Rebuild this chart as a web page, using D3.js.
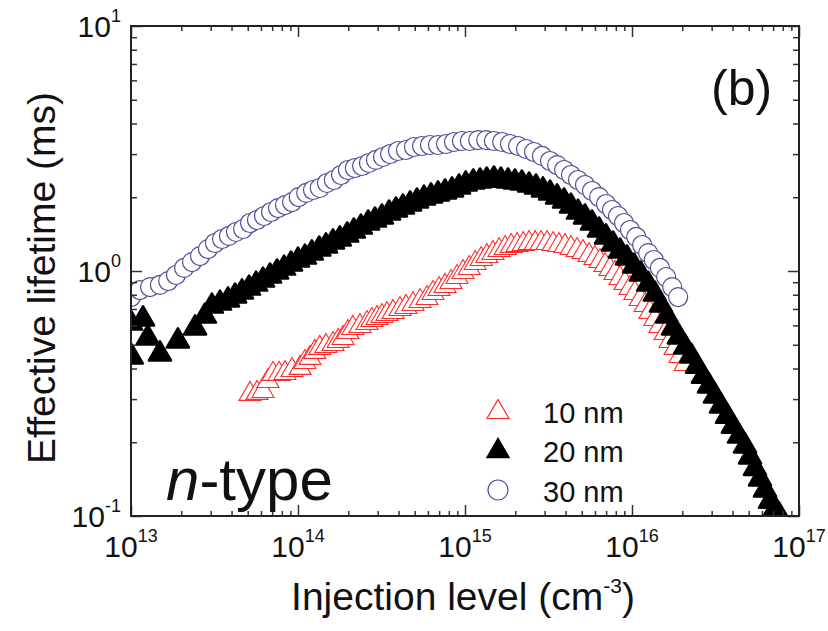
<!DOCTYPE html>
<html><head><meta charset="utf-8">
<script src="https://cdn.jsdelivr.net/npm/d3@7"></script>
<style>
body{margin:0;background:#fff}
svg{display:block}
text{font-family:"Liberation Sans",Arial,Helvetica,sans-serif;fill:#111}
</style>
</head><body>
<svg id="chart" width="828" height="631"></svg>
<script>
// ---------- data ----------
const xTickValues = [1e13, 1e14, 1e15, 1e16, 1e17];
const xTickExps = ["13", "14", "15", "16", "17"];
const yTickValues = [0.1, 1, 10];
const yTickExps = ["-1", "0", "1"];
const seriesNames = ["10 nm", "20 nm", "30 nm"];

// 10 nm (red open triangles)
const n10X = [5.16e13,5.68e13,6.17e13,6.61e13,7.09e13,7.70e13,8.36e13,9.21e13,1.03e14,1.10e14,1.18e14,1.26e14,1.35e14,1.47e14,1.62e14,1.74e14,1.86e14,1.99e14,2.13e14,2.35e14,2.59e14,2.77e14,2.97e14,3.18e14,3.41e14,3.71e14,4.08e14,4.43e14,4.88e14,5.38e14,5.92e14,6.43e14,6.99e14,7.59e14,8.25e14,8.96e14,9.73e14,1.06e15,1.15e15,1.25e15,1.35e15,1.47e15,1.60e15,1.74e15,1.89e15,2.05e15,2.23e15,2.42e15,2.63e15,2.85e15,3.10e15,3.37e15,3.65e15,3.97e15,4.31e15,4.69e15,5.09e15,5.53e15,6.00e15,6.43e15,6.89e15,7.38e15,7.91e15,8.48e15,9.08e15,9.73e15,1.04e16,1.12e16,1.20e16,1.28e16,1.37e16,1.47e16,1.58e16,1.69e16,1.81e16,1.94e16,2.08e16];
const n10Y = [0.318,0.321,0.327,0.359,0.384,0.384,0.387,0.398,0.406,0.429,0.446,0.472,0.490,0.499,0.508,0.523,0.538,0.569,0.591,0.602,0.619,0.637,0.649,0.661,0.674,0.687,0.706,0.720,0.740,0.761,0.783,0.821,0.852,0.877,0.910,0.954,1.000,1.038,1.088,1.130,1.162,1.196,1.229,1.253,1.277,1.289,1.301,1.313,1.313,1.313,1.313,1.301,1.289,1.277,1.253,1.229,1.207,1.173,1.141,1.109,1.068,1.029,0.991,0.945,0.902,0.860,0.821,0.776,0.733,0.687,0.643,0.602,0.564,0.523,0.490,0.454,0.421];

// 20 nm (black filled triangles)
const n20X = [1.00e13,1.01e13,1.18e13,1.26e13,1.49e13,1.91e13,2.42e13,2.77e13,3.05e13,3.41e13,3.81e13,4.20e13,4.62e13,5.09e13,5.61e13,6.17e13,6.80e13,7.49e13,8.25e13,9.08e13,1.00e14,1.10e14,1.21e14,1.34e14,1.47e14,1.62e14,1.78e14,1.97e14,2.16e14,2.38e14,2.63e14,2.89e14,3.18e14,3.51e14,3.86e14,4.25e14,4.69e14,5.16e14,5.68e14,6.26e14,6.89e14,7.59e14,8.36e14,9.21e14,1.01e15,1.12e15,1.23e15,1.35e15,1.49e15,1.64e15,1.81e15,1.99e15,2.19e15,2.42e15,2.66e15,2.93e15,3.23e15,3.56e15,3.92e15,4.31e15,4.75e15,5.23e15,5.76e15,6.35e15,6.99e15,7.70e15,8.48e15,9.34e15,1.03e16,1.13e16,1.25e16,1.37e16,1.49e16,1.62e16,1.76e16,1.91e16,2.08e16,2.26e16,2.45e16,2.66e16,2.89e16,3.14e16,3.41e16,3.71e16,4.02e16,4.37e16,4.75e16,5.09e16,5.45e16,5.84e16,6.26e16,6.71e16,7.18e16,7.59e16];
const n20Y = [0.619,0.450,0.643,0.538,0.463,0.523,0.591,0.661,0.726,0.747,0.769,0.798,0.829,0.860,0.893,0.927,0.963,1.000,1.038,1.078,1.119,1.151,1.196,1.241,1.277,1.326,1.364,1.416,1.470,1.526,1.585,1.630,1.677,1.741,1.791,1.842,1.895,1.949,2.004,2.043,2.082,2.121,2.162,2.223,2.287,2.330,2.352,2.374,2.396,2.374,2.352,2.330,2.308,2.265,2.223,2.162,2.101,2.024,1.949,1.859,1.757,1.677,1.585,1.484,1.390,1.301,1.218,1.141,1.058,0.981,0.893,0.813,0.733,0.661,0.591,0.543,0.494,0.454,0.413,0.376,0.343,0.312,0.284,0.258,0.235,0.214,0.195,0.176,0.158,0.143,0.129,0.116,0.108,0.102];

// 30 nm (blue open circles)
const n30X = [1.00e13,1.13e13,1.30e13,1.49e13,1.67e13,1.86e13,2.08e13,2.32e13,2.59e13,2.89e13,3.18e13,3.51e13,3.86e13,4.25e13,4.69e13,5.16e13,5.68e13,6.26e13,6.89e13,7.59e13,8.36e13,9.21e13,1.01e14,1.12e14,1.23e14,1.35e14,1.49e14,1.64e14,1.81e14,1.99e14,2.19e14,2.42e14,2.66e14,2.93e14,3.23e14,3.56e14,3.97e14,4.43e14,4.95e14,5.53e14,6.17e14,6.89e14,7.70e14,8.59e14,9.59e14,1.07e15,1.20e15,1.34e15,1.49e15,1.67e15,1.86e15,2.08e15,2.32e15,2.59e15,2.89e15,3.23e15,3.56e15,3.92e15,4.31e15,4.75e15,5.23e15,5.76e15,6.35e15,6.99e15,7.59e15,8.25e15,8.96e15,9.73e15,1.06e16,1.15e16,1.25e16,1.35e16,1.47e16,1.60e16,1.74e16,1.89e16];
const n30Y = [0.783,0.836,0.860,0.877,0.910,0.963,1.029,1.088,1.151,1.229,1.301,1.351,1.390,1.443,1.484,1.570,1.615,1.677,1.741,1.807,1.859,1.912,2.004,2.082,2.141,2.182,2.287,2.352,2.465,2.584,2.633,2.683,2.760,2.839,2.920,3.003,3.089,3.118,3.207,3.237,3.268,3.268,3.299,3.361,3.393,3.393,3.424,3.424,3.393,3.361,3.299,3.237,3.148,3.060,2.948,2.812,2.707,2.584,2.465,2.352,2.244,2.121,2.004,1.877,1.774,1.677,1.570,1.470,1.377,1.277,1.184,1.109,1.029,0.945,0.860,0.783];

// ---------- chart ----------
const svg = d3.select("#chart");
const plot = {left: 131, right: 799, top: 26, bottom: 516};
const x = d3.scaleLog().domain([1e13, 1e17]).range([plot.left, plot.right]);
const y = d3.scaleLog().domain([0.1, 10]).range([plot.bottom, plot.top]);

const zip = (xs, ys) => xs.map((v, i) => ({x: v, y: ys[i]}));
const d10 = zip(n10X, n10Y), d20 = zip(n20X, n20Y), d30 = zip(n30X, n30Y);

const triPath = "M0,-11.5 L11,7.5 L-11,7.5 Z";
const red = "#ff2a2a", blue = "#4e4e98";

svg.append("defs").append("clipPath").attr("id", "clip")
  .append("rect").attr("x", plot.left).attr("y", plot.top)
  .attr("width", plot.right - plot.left).attr("height", plot.bottom - plot.top);

const marks = svg.append("g").attr("clip-path", "url(#clip)");

marks.append("g").selectAll("circle").data(d30).join("circle")
  .attr("cx", d => x(d.x)).attr("cy", d => y(d.y)).attr("r", 9.5)
  .attr("fill", "#fff").attr("stroke", blue).attr("stroke-width", 1.2);

marks.append("g").selectAll("path").data(d10).join("path")
  .attr("d", triPath).attr("transform", d => `translate(${x(d.x)},${y(d.y)})`)
  .attr("fill", "#fff").attr("stroke", red).attr("stroke-width", 1.1);

marks.append("g").selectAll("path").data(d20).join("path")
  .attr("d", triPath).attr("transform", d => `translate(${x(d.x)},${y(d.y)})`)
  .attr("fill", "#000").attr("stroke", "#000").attr("stroke-width", 2.6)
  .attr("stroke-linejoin", "round");

// axes (ticks inward on all four sides)
const xMinor = x.ticks().filter(v => !xTickValues.includes(v));
const yMinor = y.ticks().filter(v => !yTickValues.some(t => Math.abs(t - v) < 1e-9));
function styleAxis(g) {
  g.select(".domain").remove();
  g.selectAll("line").attr("stroke", "#333").attr("stroke-width", 1.5);
}
const axes = svg.append("g");
[[d3.axisBottom, plot.bottom], [d3.axisTop, plot.top]].forEach(([fn, pos]) => {
  axes.append("g").attr("transform", `translate(0,${pos})`)
    .call(fn(x).tickValues(xMinor).tickSize(-5).tickSizeOuter(0).tickFormat("")).call(styleAxis);
  axes.append("g").attr("transform", `translate(0,${pos})`)
    .call(fn(x).tickValues(xTickValues).tickSize(-11).tickSizeOuter(0).tickFormat("")).call(styleAxis);
});
[[d3.axisLeft, plot.left], [d3.axisRight, plot.right]].forEach(([fn, pos]) => {
  axes.append("g").attr("transform", `translate(${pos},0)`)
    .call(fn(y).tickValues(yMinor).tickSize(-6).tickSizeOuter(0).tickFormat("")).call(styleAxis);
  axes.append("g").attr("transform", `translate(${pos},0)`)
    .call(fn(y).tickValues(yTickValues).tickSize(-11).tickSizeOuter(0).tickFormat("")).call(styleAxis);
});
svg.append("rect").attr("x", plot.left).attr("y", plot.top)
  .attr("width", plot.right - plot.left).attr("height", plot.bottom - plot.top)
  .attr("fill", "none").attr("stroke", "#222").attr("stroke-width", 2);

// tick labels
xTickValues.forEach((v, i) => {
  const t = svg.append("text").attr("x", x(v)).attr("y", 557)
    .attr("text-anchor", "middle").attr("font-size", 30);
  t.append("tspan").text("10");
  t.append("tspan").attr("font-size", 18).attr("dy", -15).text(xTickExps[i]);
});
yTickValues.forEach((v, i) => {
  const t = svg.append("text").attr("x", 121).attr("y", y(v) + 11)
    .attr("text-anchor", "end").attr("font-size", 30);
  t.append("tspan").text("10");
  t.append("tspan").attr("font-size", 18).attr("dy", -15).text(yTickExps[i]);
});

// axis titles
svg.append("text").attr("transform", "translate(55,278) rotate(-90)")
  .attr("text-anchor", "middle").attr("font-size", 39).text("Effective lifetime (ms)");
const xt = svg.append("text").attr("x", 463).attr("y", 610)
  .attr("text-anchor", "middle").attr("font-size", 39);
xt.append("tspan").text("Injection level (cm");
xt.append("tspan").attr("font-size", 21).attr("dy", -17).text("-3");
xt.append("tspan").attr("dy", 17).text(")");

// annotations
svg.append("text").attr("x", 711).attr("y", 105).attr("font-size", 50).text("(b)");
const nt = svg.append("text").attr("x", 166).attr("y", 500).attr("font-size", 60);
nt.append("tspan").attr("font-style", "italic").text("n");
nt.append("tspan").text("-type");

// legend
const legY = [411, 450, 490];
const leg = svg.append("g");
leg.append("path").attr("d", triPath).attr("transform", `translate(498,${legY[0]})`)
  .attr("fill", "#fff").attr("stroke", red).attr("stroke-width", 1.2);
leg.append("path").attr("d", triPath).attr("transform", `translate(498,${legY[1]})`)
  .attr("fill", "#000").attr("stroke", "#000").attr("stroke-width", 1.5);
leg.append("circle").attr("cx", 498).attr("cy", legY[2]).attr("r", 10)
  .attr("fill", "#fff").attr("stroke", blue).attr("stroke-width", 1.2);
seriesNames.forEach((s, i) => {
  leg.append("text").attr("x", 543).attr("y", legY[i] + 12).attr("font-size", 29).text(s);
});
</script>
</body></html>
